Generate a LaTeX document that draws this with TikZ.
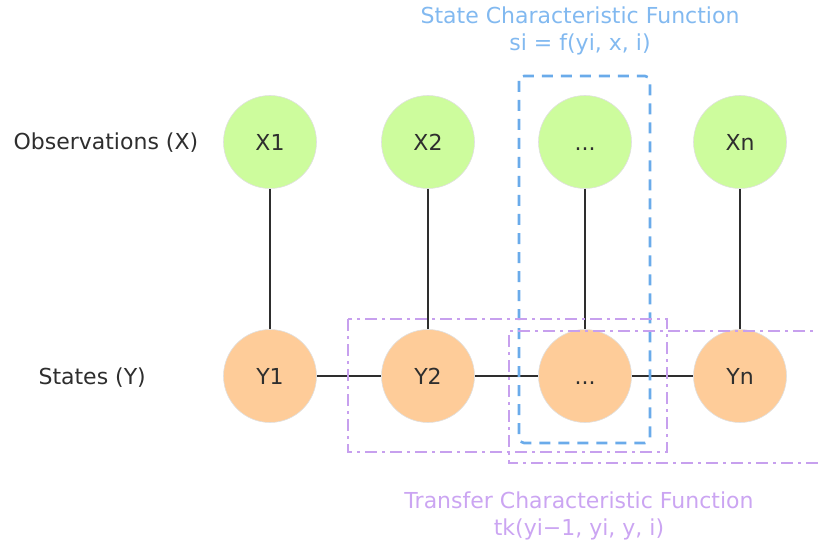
\documentclass[tikz,border=0pt]{standalone}
\usepackage{fontspec}
\setmainfont{DejaVu Sans}
\definecolor{obsgreen}{HTML}{CDFC9D}
\definecolor{stateorange}{HTML}{FECC99}
\definecolor{boxblue}{HTML}{6AABEA}
\definecolor{txtblue}{HTML}{82B9F0}
\definecolor{boxpurple}{HTML}{C7A0EE}
\definecolor{txtpurple}{HTML}{CBA5F2}
\definecolor{ink}{HTML}{2E2E2E}
\tikzset{
  base/.style={font=\fontsize{22}{27}\selectfont, text=ink},
  obs/.style={base, circle, fill=obsgreen, draw=black!12, line width=0.6pt, minimum size=93pt, inner sep=0pt},
  st/.style={base, circle, fill=stateorange, draw=black!12, line width=0.6pt, minimum size=93pt, inner sep=0pt},
  link/.style={draw=ink, line width=2.4pt},
  bluebox/.style={draw=boxblue, line width=2.6pt, dash pattern=on 11pt off 8pt, rounded corners=5pt},
  purplebox/.style={draw=boxpurple, line width=2.3pt, dash pattern=on 12pt off 5pt on 3pt off 5pt},
  rowlabel/.style={base, anchor=west},
}
\newcommand{\dotsym}{\vphantom{X}...}
\begin{document}
\begin{tikzpicture}[x=1pt, y=-1pt]
\useasboundingbox (0,0) rectangle (818,553);
% connectors (drawn first, under the nodes)
\node[obs] (x1) at (270,142) {X1};
\node[obs] (x2) at (428,142) {X2};
\node[obs] (x3) at (585,142) {\dotsym};
\node[obs] (xn) at (740,142) {Xn};
\node[st] (y1) at (270,376) {Y1};
\node[st] (y2) at (428,376) {Y2};
\node[st] (y3) at (585,376) {\dotsym};
\node[st] (yn) at (740,376) {Yn};
\draw[link] (x1) -- (y1);
\draw[link] (x2) -- (y2);
\draw[link] (x3) -- (y3);
\draw[link] (xn) -- (yn);
\draw[link] (y1) -- (y2);
\draw[link] (y2) -- (y3);
\draw[link] (y3) -- (yn);
% row labels
\node[rowlabel] (lobs) at (10,143) {Observations (X)};
\node[rowlabel] (lst) at (35,378) {States (Y)};
% boxes
\draw[bluebox] (519,76) rectangle (650,443);
\draw[purplebox] (348,319) rectangle (667,452);
\draw[purplebox] (830,331) -- (509,331) -- (509,463) -- (830,463);
% box labels
\node[base, text=txtblue, align=center] (stitle) at (580,31) {State Characteristic Function\\si = f(yi, x, i)};
\node[base, text=txtpurple, align=center] (ttitle) at (579,516) {Transfer Characteristic Function\\tk(yi−1, yi, y, i)};
\end{tikzpicture}
\end{document}
